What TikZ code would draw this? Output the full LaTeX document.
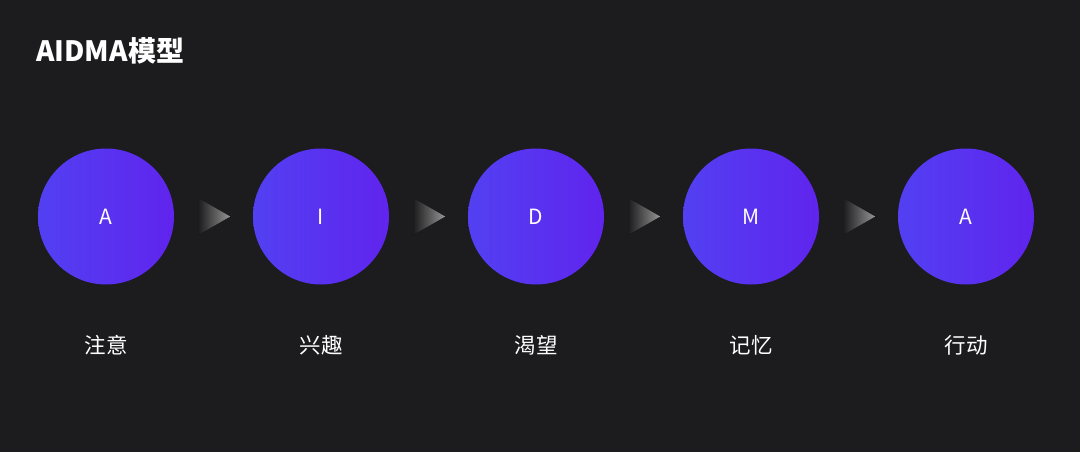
\documentclass[tikz,border=0pt]{standalone}
\usepackage{fontspec}
\newfontfamily\cjk{Noto Sans CJK SC}
\usetikzlibrary{shadings,calc}
\definecolor{bg}{RGB}{28,27,29}
\definecolor{cleft}{RGB}{82,64,242}
\definecolor{cright}{RGB}{96,36,238}
\definecolor{arrowtip}{RGB}{150,150,150}
\tikzset{
  stage/.style={circle, minimum size=136pt, inner sep=0pt, left color=cleft, right color=cright, draw=none,
    text=white, font=\cjk\fontsize{21}{24}\selectfont},
  caption/.style={text=white, font=\cjk\fontsize{21.5}{24}\selectfont, inner sep=0pt},
  title/.style={text=white, font=\cjk\bfseries\fontsize{28}{32}\selectfont, anchor=west, inner sep=0pt},
  chevron/.style={left color=bg, right color=arrowtip, draw=none}
}
\begin{document}
\begin{tikzpicture}[x=1pt,y=-1pt]
\fill[bg] (0,0) rectangle (1080,452);
\useasboundingbox (0,0) rectangle (1080,452);
\node[title] (t) at (36,50.5) {AIDMA\hspace{1pt}模型};
\foreach \i/\l/\c in {0/A/注意,1/I/兴趣,2/D/渴望,3/M/记忆,4/A/行动}{
  \node[stage] (s\i) at (106+215*\i,216.5) {\l};
  \node[caption] (c\i) at (106+215*\i,345) {\c};
}
\foreach \i in {0,1,2,3}{
  \fill[chevron] ($(s\i.east)+(24,-18.5)$) -- ($(s\i.east)+(56,0)$) -- ($(s\i.east)+(24,18.5)$) -- cycle;
}
\end{tikzpicture}
\end{document}
